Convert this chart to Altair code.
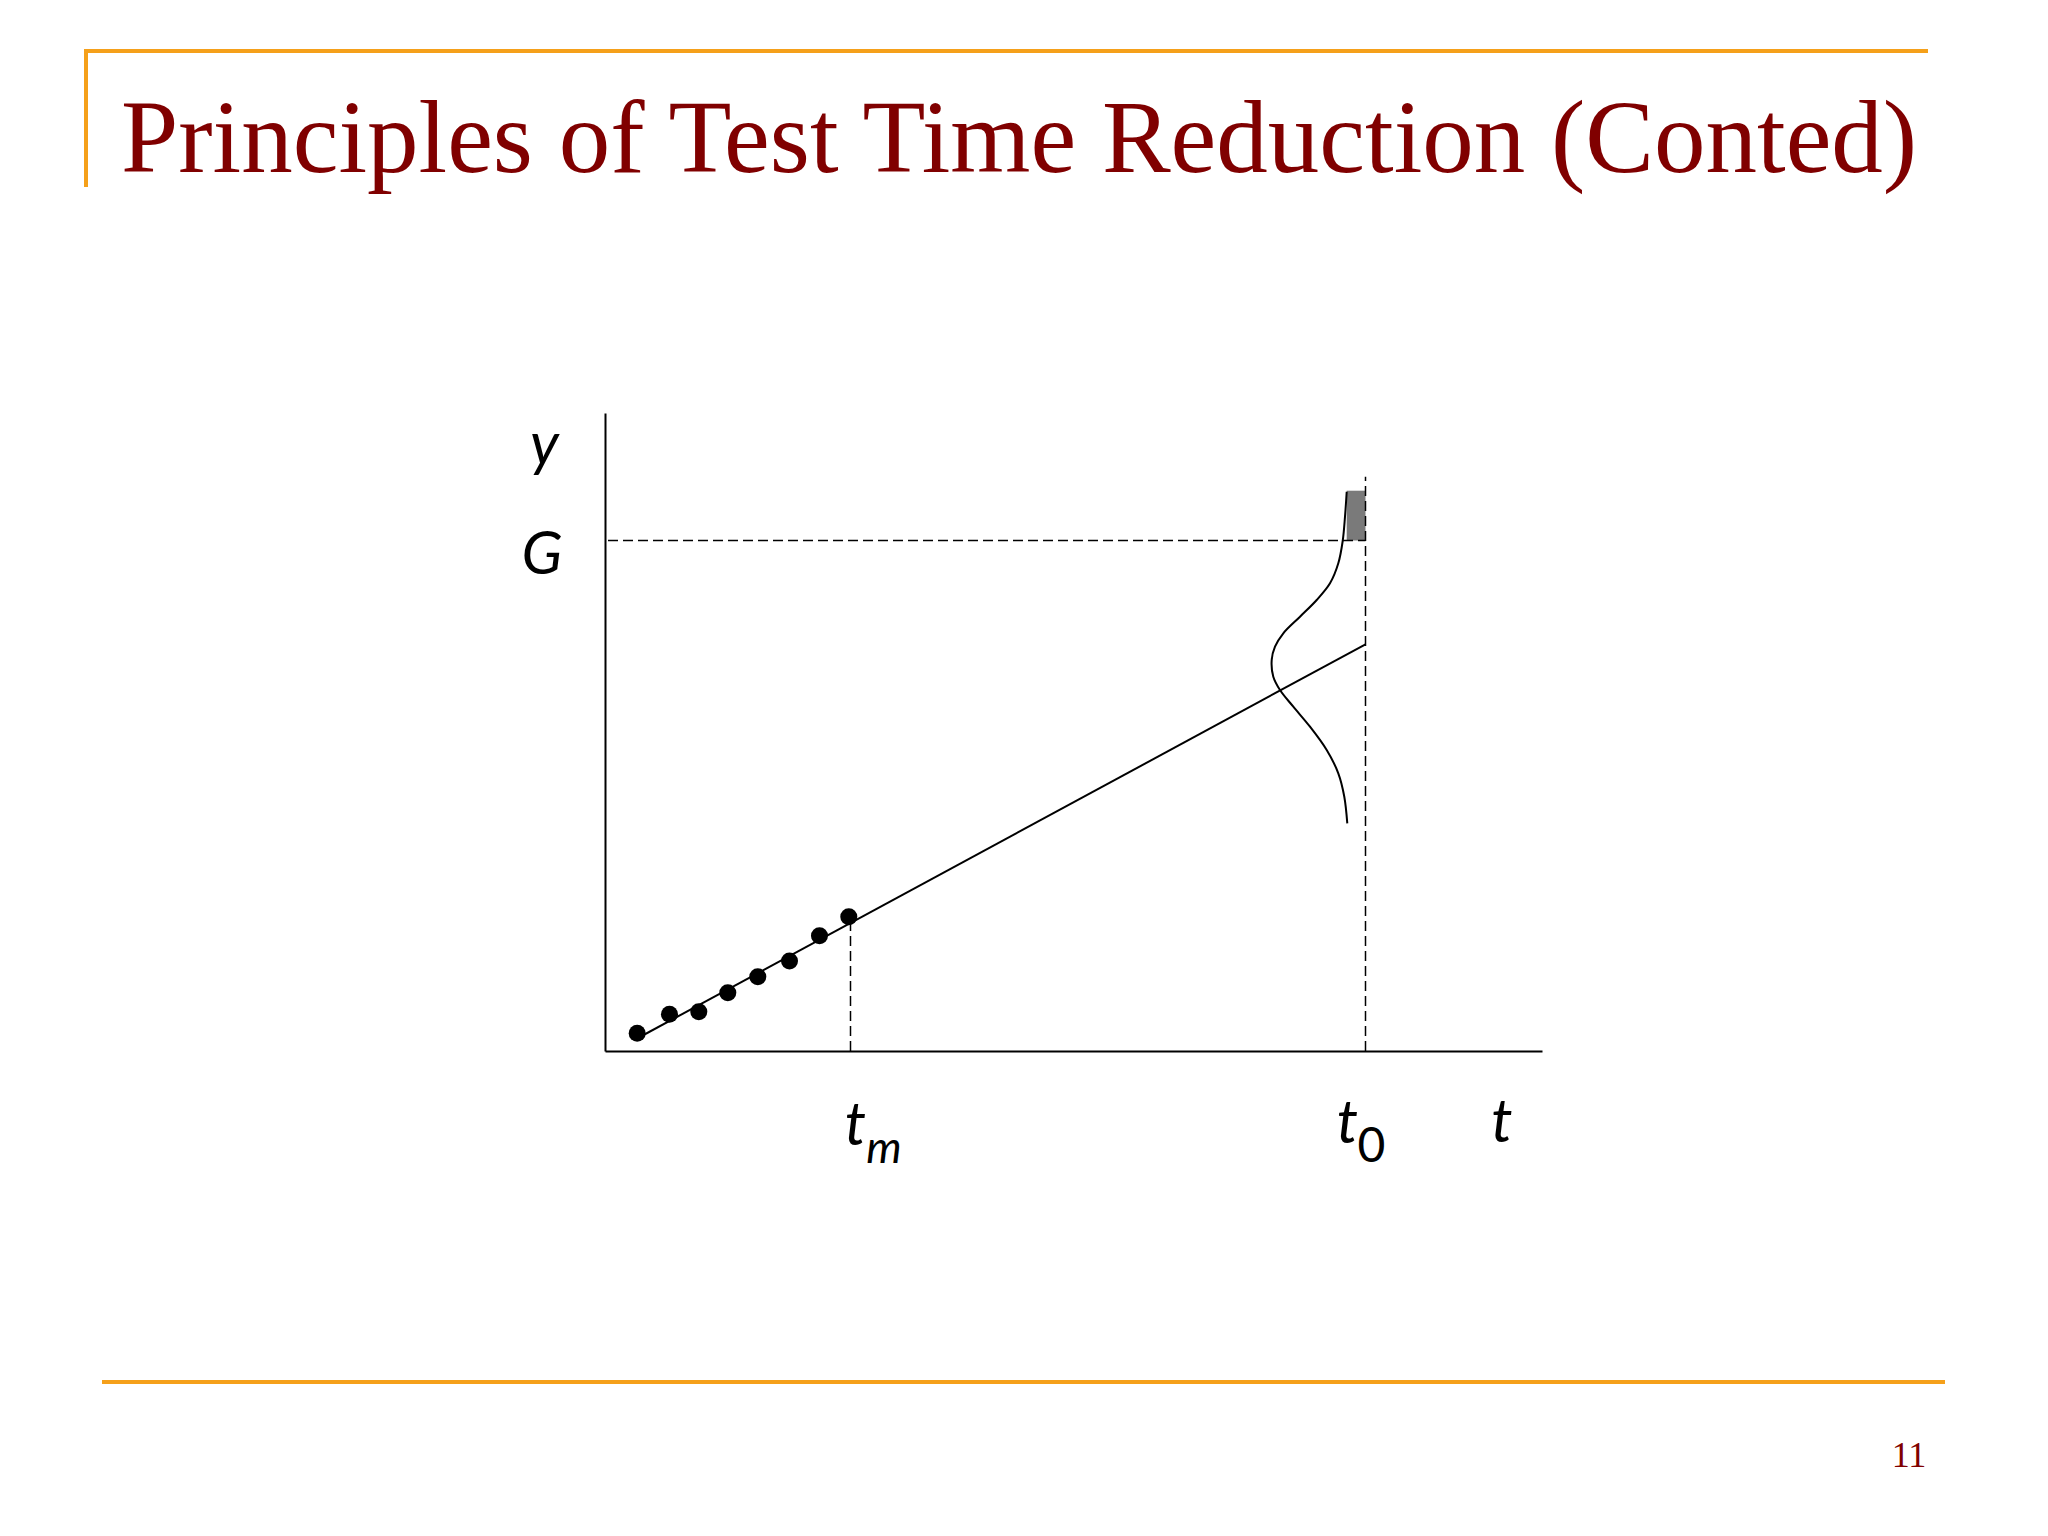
import altair as alt
import pandas as pd

# ---------------- data (chart units: t across, y up) ----------------
pt_t = [32.2, 64.5, 93.8, 122.8, 152.8, 184.5, 214.5, 243.8]
pt_y = [17.7, 36.7, 39.3, 58.3, 74.3, 90.0, 115.3, 134.3]

trend_t = [33.0, 760.5]
trend_y = [13.0, 406.7]

curve_t = [741.7, 740.0, 737.7, 733.3, 725.0, 711.7, 695.0, 678.3, 670.0, 666.7,
           668.3, 675.0, 688.3, 705.0, 721.7, 733.3, 739.3, 742.3]
curve_y = [559.3, 534.3, 510.0, 487.7, 467.7, 451.0, 434.3, 417.7, 404.3, 391.0,
           374.3, 361.0, 344.3, 324.3, 301.0, 277.7, 254.3, 227.7]

t_m = 245.5
t_0 = 760.5
G = 510.5
tm_top = 133.0
t0_top = 574.3
tail_t = [741.7, 760.5]
tail_y = [510.5, 560.3]

x_max = 937.0
y_max = 638.0

main_labels = ["y", "G", "t", "t", "t"]
main_lab_t = [-60.5, -63.0, 250.5, 742.5, 897.0]
main_lab_y = [586.0, 477.0, -94.0, -92.0, -91.0]
sub_m_t, sub_m_y = [279.0], [-112.0]
sub_0_t, sub_0_y = [766.5], [-110.5]

slide_title = "Principles of Test Time Reduction (Conted)"
page_no = "11"

ORANGE = "#F5A01A"
MAROON = "#800000"

# ---------------- helpers ----------------
xs = alt.Scale(domain=[0, x_max], nice=False, zero=False)
ys = alt.Scale(domain=[0, y_max], nice=False, zero=False)
ax = alt.Axis(title=None, ticks=False, labels=False, grid=False,
              domain=True, domainColor="black", domainWidth=2)


def X(f):
    return alt.X(f"{f}:Q", scale=xs, axis=ax)


def Y(f):
    return alt.Y(f"{f}:Q", scale=ys, axis=ax)


def X2(f):
    return alt.X2(f"{f}:Q")


def Y2(f):
    return alt.Y2(f"{f}:Q")


pts = pd.DataFrame({"t": pt_t, "y": pt_y})
trend = pd.DataFrame({"t": trend_t, "y": trend_y})
curve = pd.DataFrame({"t": curve_t, "y": curve_y, "i": list(range(len(curve_t)))})
one = pd.DataFrame({"a": [0]})

axes_layer = alt.Chart(pd.DataFrame({"t": [0.0, x_max], "y": [0.0, y_max]})).mark_point(
    opacity=0).encode(x=X("t"), y=Y("y"))

trend_layer = alt.Chart(trend).mark_line(color="black", strokeWidth=2).encode(
    x=X("t"), y=Y("y"))

pts_layer = alt.Chart(pts).mark_circle(color="black", opacity=1, size=290).encode(
    x=X("t"), y=Y("y"))

curve_layer = alt.Chart(curve).mark_line(
    color="black", strokeWidth=2, interpolate="catmull-rom").encode(
    x=X("t"), y=Y("y"), order="i:Q")

dash = [10, 5]
tm_rule = alt.Chart(pd.DataFrame({"t": [t_m], "y": [0.0], "y2": [tm_top]})).mark_rule(
    color="black", strokeWidth=1.5, strokeDash=dash).encode(x=X("t"), y=Y("y"), y2=Y2("y2"))
t0_rule = alt.Chart(pd.DataFrame({"t": [t_0], "y": [0.0], "y2": [t0_top]})).mark_rule(
    color="black", strokeWidth=1.5, strokeDash=dash).encode(x=X("t"), y=Y("y"), y2=Y2("y2"))
g_rule = alt.Chart(pd.DataFrame({"t": [3.0], "t2": [t_0], "y": [G]})).mark_rule(
    color="black", strokeWidth=1.5, strokeDash=dash).encode(x=X("t"), x2=X2("t2"), y=Y("y"))

tail = alt.Chart(pd.DataFrame({"t": [tail_t[0]], "t2": [tail_t[1]],
                               "y": [tail_y[0]], "y2": [tail_y[1]]})).mark_rect(
    color="#7a7a7a").encode(x=X("t"), x2=X2("t2"), y=Y("y"), y2=Y2("y2"))

lab_main = alt.Chart(pd.DataFrame({"t": main_lab_t, "y": main_lab_y, "s": main_labels})).mark_text(
    font="Lato", fontStyle="italic", fontSize=60, align="center", baseline="alphabetic",
    color="black").encode(x=X("t"), y=Y("y"), text="s:N")
lab_m = alt.Chart(pd.DataFrame({"t": sub_m_t, "y": sub_m_y, "s": ["m"]})).mark_text(
    font="Lato", fontStyle="italic", fontSize=45, align="center", baseline="alphabetic",
    color="black").encode(x=X("t"), y=Y("y"), text="s:N")
lab_0 = alt.Chart(pd.DataFrame({"t": sub_0_t, "y": sub_0_y, "s": ["0"]})).mark_text(
    font="Lato", fontSize=48, align="center", baseline="alphabetic",
    color="black").encode(x=X("t"), y=Y("y"), text="s:N")

# ---------------- slide decoration (pixel positions relative to plot area) ----------------
top_line = alt.Chart(one).mark_rule(color=ORANGE, strokeWidth=4).encode(
    x=alt.value(-519), x2=alt.value(1323), y=alt.value(-362))
left_line = alt.Chart(one).mark_rule(color=ORANGE, strokeWidth=4).encode(
    x=alt.value(-519), y=alt.value(-364), y2=alt.value(-226))
bottom_line = alt.Chart(one).mark_rule(color=ORANGE, strokeWidth=4).encode(
    x=alt.value(-503), x2=alt.value(1340), y=alt.value(969))
title_layer = alt.Chart(pd.DataFrame({"s": [slide_title]})).mark_text(
    font="Liberation Serif", fontSize=103, color=MAROON, align="left",
    baseline="alphabetic").encode(x=alt.value(-484), y=alt.value(-241), text="s:N")
page_layer = alt.Chart(pd.DataFrame({"s": [page_no]})).mark_text(
    font="Liberation Serif", fontSize=36, color=MAROON, align="center",
    baseline="alphabetic").encode(x=alt.value(1304), y=alt.value(1054), text="s:N")

chart = alt.layer(
    axes_layer, tail, g_rule, tm_rule, t0_rule, trend_layer, curve_layer, pts_layer,
    lab_main, lab_m, lab_0,
    top_line, left_line, bottom_line, title_layer, page_layer,
).properties(
    width=937, height=638,
    autosize=alt.AutoSizeParams(type="none"),
    padding={"left": 597, "top": 405, "right": 490, "bottom": 460},
    background="white",
).configure_view(stroke=None)

chart.save("out.html", embed_options={"renderer": "svg", "actions": False})
